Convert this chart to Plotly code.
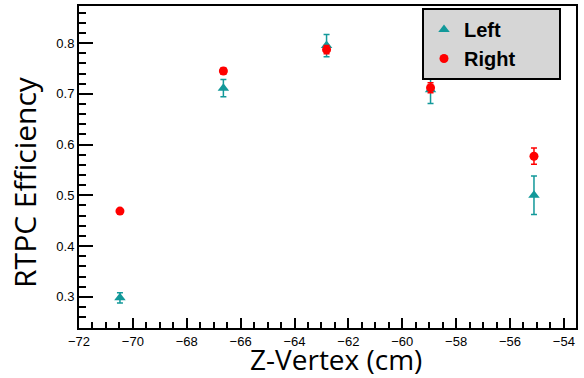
import plotly.graph_objects as go

# Data
z_vertex = [-70.48, -66.64, -62.81, -58.95, -55.11]
left_eff = [0.298, 0.711, 0.795, 0.708, 0.500]
left_err = [0.010, 0.017, 0.022, 0.027, 0.038]
right_eff = [0.469, 0.745, 0.787, 0.712, 0.577]
right_err = [0.004, 0.006, 0.008, 0.010, 0.016]
x_tick_start, x_tick_step, x_minor_step = -72, 2, 0.5
y_tick_start, y_tick_step, y_minor_step = 0.3, 0.1, 0.02
x_range = [-72, -53.55]
y_range = [0.2386, 0.873]

TEAL = "#12999a"
RED = "#ff0000"

W, H = 584, 378
L, R, T, B = 79, 8, 4, 50
PW, PH = W - L - R, H - T - B


def px(xp):
    return (xp - L) / PW


def py(yp):
    return (H - B - yp) / PH


fig = go.Figure()

fig.add_trace(go.Scatter(
    x=z_vertex, y=left_eff, mode="markers", name="Left",
    marker=dict(symbol="triangle-up", size=10, color=TEAL),
    error_y=dict(type="data", array=left_err, color=TEAL, thickness=1.5, width=3),
))
fig.add_trace(go.Scatter(
    x=z_vertex, y=right_eff, mode="markers", name="Right" + "\u00a0" * 7,
    marker=dict(symbol="circle", size=9, color=RED),
    error_y=dict(type="data", array=right_err, color=RED, thickness=1.5, width=3),
))
# empty trace so the overlay axes (minor ticks) are drawn
fig.add_trace(go.Scatter(
    x=[None], y=[None], xaxis="x2", yaxis="y2", showlegend=False, hoverinfo="skip",
))

fig.update_layout(
    template="simple_white",
    width=W, height=H,
    margin=dict(l=L, r=R, t=T, b=B, pad=0),
    font=dict(family="Liberation Sans, Arial", size=13, color="black"),
    showlegend=True,
    legend=dict(
        x=px(422), y=py(6), xanchor="left", yanchor="top",
        bgcolor="#d6d6d6", bordercolor="black", borderwidth=2,
        font=dict(family="Liberation Sans, Arial", size=20, color="black", weight="bold"),
        tracegroupgap=0, itemwidth=30,
    ),
    xaxis=dict(
        range=x_range, tickmode="linear", tick0=x_tick_start, dtick=x_tick_step,
        ticks="inside", ticklen=10, tickwidth=1.5, tickcolor="#000000",
        showline=True, linecolor="black", linewidth=2, mirror=True,
    ),
    yaxis=dict(
        range=y_range, tickmode="linear", tick0=y_tick_start, dtick=y_tick_step,
        tickformat=".1f",
        ticks="inside", ticklen=14, tickwidth=1.5, tickcolor="#000000",
        showline=True, linecolor="black", linewidth=2, mirror=True,
    ),
    xaxis2=dict(
        overlaying="x", anchor="y", side="bottom", matches=None,
        range=x_range, tickmode="linear", tick0=x_tick_start, dtick=x_minor_step,
        ticks="inside", ticklen=6, tickwidth=1.5, tickcolor="#000000",
        showticklabels=False, showline=False, showgrid=False, zeroline=False,
    ),
    yaxis2=dict(
        overlaying="y", anchor="x", side="left",
        range=y_range, tickmode="linear", tick0=y_tick_start, dtick=y_minor_step,
        ticks="inside", ticklen=7, tickwidth=1.5, tickcolor="#000000",
        showticklabels=False, showline=False, showgrid=False, zeroline=False,
    ),
    annotations=[
        dict(text="Z-Vertex (cm)", xref="paper", yref="paper", x=px(336), y=py(359),
             xanchor="center", yanchor="middle", showarrow=False,
             font=dict(family="Open Sans", size=28, color="black")),
        dict(text="RTPC Efficiency", xref="paper", yref="paper", x=px(25), y=py(181),
             xanchor="center", yanchor="middle", showarrow=False, textangle=-90,
             font=dict(family="Open Sans", size=30, color="black")),
    ],
)

fig.write_html("out.html")
